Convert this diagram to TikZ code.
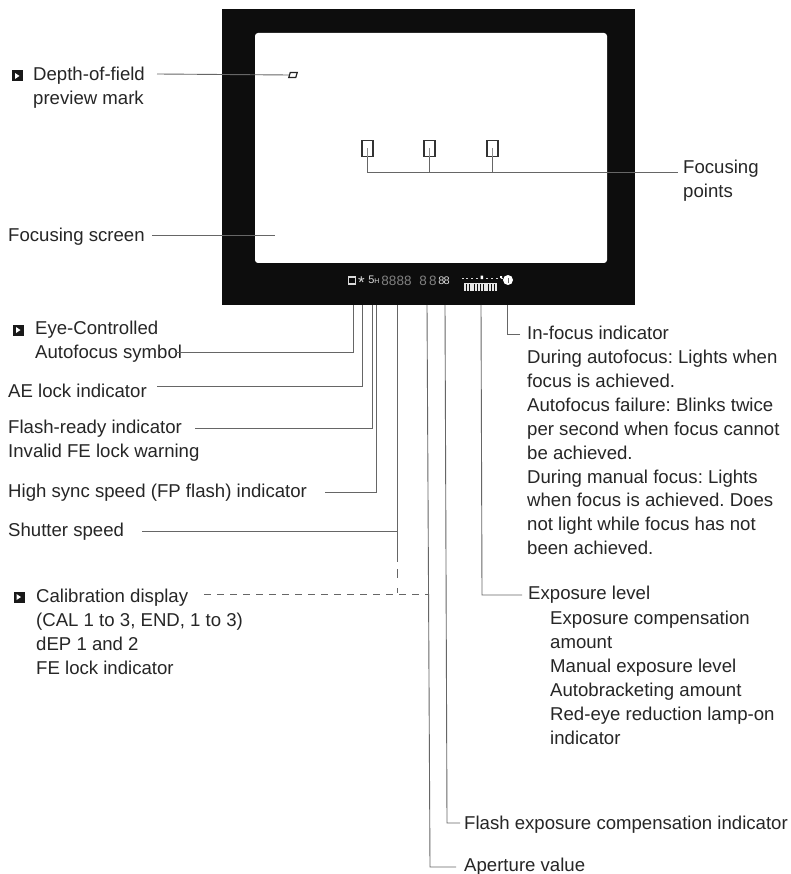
\documentclass[tikz,border=0pt]{standalone}
\usepackage{fontspec}
\setmainfont{Liberation Sans}
\frenchspacing
\tikzset{
  lbl/.style={anchor=west,inner sep=0pt,font=\fontsize{18.6}{23.9}\selectfont,text=black!85,align=left},
  lead/.style={draw=black!60,line width=0.9pt},
  leaddash/.style={lead,dash pattern=on 7pt off 6pt},
  pt/.style={draw=black!80,line width=1.5pt,fill=white,minimum width=11pt,minimum height=16pt,inner sep=0pt},
  lcd/.style={inner sep=0pt,text=white!85!black},
  badge/.style={fill=black!90,minimum size=11pt,inner sep=0pt}
}
\begin{document}
\begin{tikzpicture}[x=1pt,y=-1pt]
\useasboundingbox (0,0) rectangle (790,874);
\fill[white] (0,0) rectangle (790,874);
% frame
\fill[black!95] (222,9) rectangle (635,305);
\fill[white,rounded corners=3pt] (255,33) rectangle (607,263);
% focusing points and mark
\node[pt] (fp1) at (367.5,148.5) {};
\node[pt] (fp2) at (429.5,148.5) {};
\node[pt] (fp3) at (492.5,148.5) {};
\draw[black!45,line width=0.7pt] (fp1.center)--(fp1.south) (fp2.center)--(fp2.south) (fp3.center)--(fp3.south);
\node[draw=black!85,line width=1.2pt,fill=white,minimum width=7pt,minimum height=5pt,inner sep=0pt,xslant=0.3] (dof) at (293,75) {};
% LCD
\node[draw=white!85!black,line width=1.5pt,minimum size=7pt,inner sep=0pt] (l1) at (352,280.5) {};
\node[lcd] (l2) at (361.5,283) {\fontsize{17}{17}\selectfont *};
\node[lcd] (l3) at (371.5,280) {\fontsize{11}{11}\selectfont 5};
\node[lcd] (l4) at (377,281.5) {\fontsize{7}{7}\selectfont H};
\node[lcd,text=black!50!white] (l5) at (396.5,280.5) {\fontsize{13.5}{13.5}\selectfont 8888};
\node[lcd,text=black!50!white] (l6) at (428,280.5) {\fontsize{13.5}{13.5}\selectfont 8\,8};
\node[lcd] (l7) at (444,280.5) {\fontsize{11}{11}\selectfont 8\kern-1pt 8};
% exposure scale
\foreach \i in {0,...,11}{\fill[white!90!black] ({464+\i*2.8},283) rectangle ++(2,8);}
\fill[white!90!black] (464,283) rectangle (497,284.2);
\foreach \i in {0,...,8}{\fill[white!85!black] ({461.5+\i*4.9},277.5) rectangle ++(2,1.6);}
\fill[white] (480.5,275.5) rectangle ++(2.5,3.5) (500,276) rectangle ++(2,2);
\node[circle,fill=white,minimum size=10pt,inner sep=0pt] (inf) at (508,280) {};
\fill[black!60] (507.5,277.5) rectangle ++(1,5);
% text
\node[badge] (b1) at (17.5,76) {};
\fill[white] (15,73) -- (19.5,76) -- (15,79) -- cycle;
\node[lbl] (t1) at (33,88) {Depth-of-field\\preview mark};
\node[lbl] (t2) at (683,181) {Focusing\\points};
\node[lbl] (t3) at (8,237) {Focusing screen};
\node[badge] (b2) at (18.5,330) {};
\fill[white] (16,327) -- (20.5,330) -- (16,333) -- cycle;
\node[lbl] (t4) at (35,342) {Eye-Controlled\\Autofocus symbol};
\node[lbl] (t5) at (8,391) {AE lock indicator};
\node[lbl] (t6) at (8,441) {Flash-ready indicator\\Invalid FE lock warning};
\node[lbl] (t7) at (8,493) {High sync speed (FP flash) indicator};
\node[lbl] (t8) at (8,532) {Shutter speed};
\node[badge] (b3) at (19,597) {};
\fill[white] (16.5,594) -- (21,597) -- (16.5,600) -- cycle;
\node[lbl] (t9) at (36,631.5) {Calibration display\\(CAL 1 to 3, END, 1 to 3)\\dEP 1 and 2\\FE lock indicator};
\node[lbl] (t10) at (527,440.5) {In-focus indicator\\During autofocus: Lights when\\focus is achieved.\\Autofocus failure: Blinks twice\\per second when focus cannot\\be achieved.\\During manual focus: Lights\\when focus is achieved. Does\\not light while focus has not\\been achieved.};
\node[lbl] (t11) at (528,595) {Exposure level};
\node[lbl] (t12) at (550,678) {Exposure compensation\\amount\\Manual exposure level\\Autobracketing amount\\Red-eye reduction lamp-on\\indicator};
\node[lbl] (t13) at (464,825) {Flash exposure compensation indicator};
\node[lbl] (t14) at (464,867) {Aperture value};
% free ends
\coordinate (s1) at (157,74);
\coordinate (e2) at (678,172);
\coordinate (s3) at (152,235);
\coordinate (e3) at (275,235);
\coordinate (s4) at (175,352);
\coordinate (s5) at (157,386);
\coordinate (s6) at (195,428);
\coordinate (s7) at (325,492);
\coordinate (s8) at (142,531);
\coordinate (s9) at (204,594);
\coordinate (m8) at (397,562);
\coordinate (d8) at (397,569);
\coordinate (j9) at (397,593);
\coordinate (a9) at (428,594);
\coordinate (ai) at (520,334);
\coordinate (ax) at (522,595);
\coordinate (af) at (460,823);
\coordinate (ap) at (456,867);
% leaders
\draw[lead] (s1) -- (dof.west);
\draw[lead] (fp1.south) |- (e2);
\draw[lead] (fp2.south) -- (fp2.south |- e2);
\draw[lead] (fp3.south) -- (fp3.south |- e2);
\draw[lead] (s3) -- (e3);
\draw[lead] (s4) -| (353,305);
\draw[lead] (s5) -| (362,305);
\draw[lead] (s6) -| (372,305);
\draw[lead] (s7) -| (376.5,305);
\draw[lead] (s8) -| (397,305);
\draw[lead] (397,531) -- (m8);
\draw[lead,dash pattern=on 9pt off 10pt] (d8) -- (j9);
\draw[leaddash] (s9) -- (a9);
\draw[lead] (ap) -- (430,867) -- (427,305);
\draw[lead] (af) -- (447,823) -- (445,305);
\draw[lead] (ax) -- (482,595) -- (481,305);
\draw[lead] (ai) -| (507,305);
\end{tikzpicture}
\end{document}
